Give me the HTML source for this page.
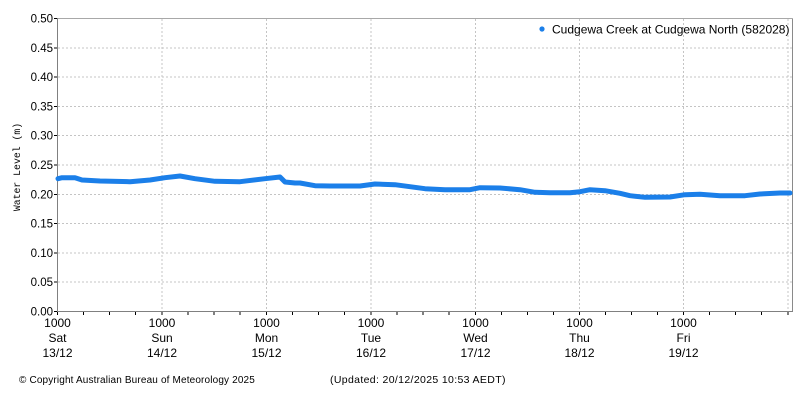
<!DOCTYPE html>
<html>
<head>
<meta charset="utf-8">
<style>
html,body{margin:0;padding:0;background:#fff;}
svg{display:block;}
text{font-family:"Liberation Sans",sans-serif;fill:#000;}
</style>
</head>
<body>
<svg width="800" height="400" viewBox="0 0 800 400" xmlns="http://www.w3.org/2000/svg">
  <rect x="0" y="0" width="800" height="400" fill="#fff"/>
  <!-- horizontal grid -->
  <g stroke="#c4c4c4" stroke-width="1" stroke-dasharray="2,2" shape-rendering="crispEdges">
    <line x1="58" y1="18.5" x2="792" y2="18.5"/>
    <line x1="58" y1="47.8" x2="792" y2="47.8"/>
    <line x1="58" y1="77.1" x2="792" y2="77.1"/>
    <line x1="58" y1="106.4" x2="792" y2="106.4"/>
    <line x1="58" y1="135.7" x2="792" y2="135.7"/>
    <line x1="58" y1="165" x2="792" y2="165"/>
    <line x1="58" y1="194.3" x2="792" y2="194.3"/>
    <line x1="58" y1="223.6" x2="792" y2="223.6"/>
    <line x1="58" y1="252.9" x2="792" y2="252.9"/>
    <line x1="58" y1="282.2" x2="792" y2="282.2"/>
    <!-- vertical grid -->
    <line x1="162" y1="19" x2="162" y2="311"/>
    <line x1="266.5" y1="19" x2="266.5" y2="311"/>
    <line x1="371" y1="19" x2="371" y2="311"/>
    <line x1="475.5" y1="19" x2="475.5" y2="311"/>
    <line x1="579.5" y1="19" x2="579.5" y2="311"/>
    <line x1="683.5" y1="19" x2="683.5" y2="311"/>
    <line x1="788" y1="19" x2="788" y2="311"/>
  </g>
  <!-- border -->
  <g shape-rendering="crispEdges">
    <line x1="57.5" y1="18.5" x2="792.5" y2="18.5" stroke="#a8a8a8"/>
    <line x1="792.5" y1="18.5" x2="792.5" y2="311.5" stroke="#8a8a8a"/>
    <line x1="57.5" y1="18" x2="57.5" y2="312" stroke="#808080"/>
    <line x1="57" y1="311.5" x2="793" y2="311.5" stroke="#808080"/>
  </g>
  <!-- y ticks -->
  <g stroke="#000" stroke-width="1" shape-rendering="crispEdges">
    <line x1="54" y1="18.5" x2="57" y2="18.5"/>
    <line x1="54" y1="47.8" x2="57" y2="47.8"/>
    <line x1="54" y1="77.1" x2="57" y2="77.1"/>
    <line x1="54" y1="106.4" x2="57" y2="106.4"/>
    <line x1="54" y1="135.7" x2="57" y2="135.7"/>
    <line x1="54" y1="165" x2="57" y2="165"/>
    <line x1="54" y1="194.3" x2="57" y2="194.3"/>
    <line x1="54" y1="223.6" x2="57" y2="223.6"/>
    <line x1="54" y1="252.9" x2="57" y2="252.9"/>
    <line x1="54" y1="282.2" x2="57" y2="282.2"/>
    <line x1="54" y1="311.5" x2="57" y2="311.5"/>
  </g>
  <g font-size="11.5" text-anchor="end">
    <text x="53" y="22.5">0.50</text>
    <text x="53" y="51.8">0.45</text>
    <text x="53" y="81.1">0.40</text>
    <text x="53" y="110.4">0.35</text>
    <text x="53" y="139.7">0.30</text>
    <text x="53" y="169">0.25</text>
    <text x="53" y="198.3">0.20</text>
    <text x="53" y="227.6">0.15</text>
    <text x="53" y="256.9">0.10</text>
    <text x="53" y="286.2">0.05</text>
    <text x="53" y="315.5">0.00</text>
  </g>
  <!-- x ticks -->
  <g stroke="#000" stroke-width="1" shape-rendering="crispEdges">
    <line x1="57.5" y1="312" x2="57.5" y2="315"/>
    <line x1="83.5" y1="312" x2="83.5" y2="315"/>
    <line x1="109.5" y1="312" x2="109.5" y2="315"/>
    <line x1="135.5" y1="312" x2="135.5" y2="315"/>
    <line x1="162" y1="312" x2="162" y2="315"/>
    <line x1="188" y1="312" x2="188" y2="315"/>
    <line x1="214" y1="312" x2="214" y2="315"/>
    <line x1="240" y1="312" x2="240" y2="315"/>
    <line x1="266.5" y1="312" x2="266.5" y2="315"/>
    <line x1="292.5" y1="312" x2="292.5" y2="315"/>
    <line x1="318.5" y1="312" x2="318.5" y2="315"/>
    <line x1="344.5" y1="312" x2="344.5" y2="315"/>
    <line x1="371" y1="312" x2="371" y2="315"/>
    <line x1="397" y1="312" x2="397" y2="315"/>
    <line x1="423" y1="312" x2="423" y2="315"/>
    <line x1="449" y1="312" x2="449" y2="315"/>
    <line x1="475.5" y1="312" x2="475.5" y2="315"/>
    <line x1="501.5" y1="312" x2="501.5" y2="315"/>
    <line x1="527.5" y1="312" x2="527.5" y2="315"/>
    <line x1="553.5" y1="312" x2="553.5" y2="315"/>
    <line x1="579.5" y1="312" x2="579.5" y2="315"/>
    <line x1="605.5" y1="312" x2="605.5" y2="315"/>
    <line x1="631.5" y1="312" x2="631.5" y2="315"/>
    <line x1="657.5" y1="312" x2="657.5" y2="315"/>
    <line x1="683.5" y1="312" x2="683.5" y2="315"/>
    <line x1="709.5" y1="312" x2="709.5" y2="315"/>
    <line x1="735.5" y1="312" x2="735.5" y2="315"/>
    <line x1="761.5" y1="312" x2="761.5" y2="315"/>
    <line x1="788" y1="312" x2="788" y2="315"/>
  </g>
  <g font-size="12" text-anchor="middle">
    <text x="57.5" y="327">1000</text><text x="57.5" y="342">Sat</text><text x="57.5" y="357">13/12</text>
    <text x="162" y="327">1000</text><text x="162" y="342">Sun</text><text x="162" y="357">14/12</text>
    <text x="266.5" y="327">1000</text><text x="266.5" y="342">Mon</text><text x="266.5" y="357">15/12</text>
    <text x="371" y="327">1000</text><text x="371" y="342">Tue</text><text x="371" y="357">16/12</text>
    <text x="475.5" y="327">1000</text><text x="475.5" y="342">Wed</text><text x="475.5" y="357">17/12</text>
    <text x="579.5" y="327">1000</text><text x="579.5" y="342">Thu</text><text x="579.5" y="357">18/12</text>
    <text x="683.5" y="327">1000</text><text x="683.5" y="342">Fri</text><text x="683.5" y="357">19/12</text>
  </g>
  <!-- y axis title -->
  <text transform="translate(20,167) rotate(-90)" text-anchor="middle" font-size="9.8" style="font-family:'Liberation Mono',monospace">Water Level (m)</text>
  <!-- data -->
  <polyline fill="none" stroke="#1b7fe9" stroke-width="5" stroke-linejoin="round" stroke-linecap="round"
    points="58,178.7 62,177.7 75,177.7 82,180 100,181 130,181.7 150,180 165,177.7 180,176 195,178.7 215,181.3 240,181.7 265,178.7 280,177 285,182 295,183 300,183 315,185.7 330,186 360,186 375,184 395,184.7 410,186.7 425,188.7 445,189.7 470,189.7 480,187.7 500,188 520,189.7 535,192.3 550,192.7 570,192.7 580,191.7 590,189.7 605,190.7 620,193.3 630,195.7 645,197.3 670,197 685,194.7 700,194.3 720,195.7 745,195.7 760,194 780,193 790,193"/>
  <!-- legend -->
  <circle cx="542" cy="29" r="2.6" fill="#1b7fe9"/>
  <text x="552" y="33.5" font-size="12">Cudgewa Creek at Cudgewa North (582028)</text>
  <!-- footer -->
  <text x="19" y="383" font-size="10" letter-spacing="0.15">© Copyright Australian Bureau of Meteorology 2025</text>
  <text x="330" y="383" font-size="10.5" letter-spacing="0.35">(Updated: 20/12/2025 10:53 AEDT)</text>
</svg>
</body>
</html>
